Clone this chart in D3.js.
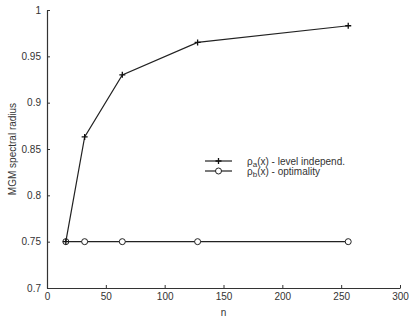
<!DOCTYPE html>
<html>
<head>
<meta charset="utf-8">
<script src="https://cdn.jsdelivr.net/npm/d3@7"></script>
<style>
  html, body { margin: 0; padding: 0; background: #fff; }
  svg text { font-family: "Liberation Sans", Arial, sans-serif; fill: #333; }
</style>
</head>
<body>
<svg id="chart" width="409" height="321"></svg>
<script>
// Grid sizes n and spectral radius for the two smoothing-parameter choices
const nValues = [16, 32, 64, 128, 256];
const rhoLevelIndependent = [0.75, 0.863, 0.930, 0.965, 0.983];
const rhoOptimality = [0.75, 0.75, 0.75, 0.75, 0.75];
const xTicks = [0, 50, 100, 150, 200, 250, 300];
const yTicks = [0.7, 0.75, 0.8, 0.85, 0.9, 0.95, 1];
const yTickLabels = ["0.7", "0.75", "0.8", "0.85", "0.9", "0.95", "1"];

const svg = d3.select("#chart");
const x = d3.scaleLinear().domain([0, 300]).range([47, 400]);
const y = d3.scaleLinear().domain([0.7, 1]).range([288, 10]);
const ink = "#333";

// Axes: ticks point inward, as in a MATLAB plot without box
const xAxis = d3.axisBottom(x).tickValues(xTicks).tickSizeInner(-3).tickSizeOuter(0).tickPadding(5);
const yAxis = d3.axisLeft(y).tickValues(yTicks).tickFormat((d, i) => yTickLabels[i])
  .tickSizeInner(-3).tickSizeOuter(0).tickPadding(6);

const gx = svg.append("g").attr("transform", `translate(0,${y(0.7)})`).call(xAxis);
const gy = svg.append("g").attr("transform", `translate(${x(0)},0)`).call(yAxis);
[gx, gy].forEach(g => {
  g.select(".domain").attr("stroke", ink).attr("stroke-width", 1.2);
  g.selectAll(".tick line").attr("stroke", ink);
  g.selectAll(".tick text").attr("font-size", 10).style("fill", ink)
    .attr("font-family", "'Liberation Sans', Arial, sans-serif");
});
gx.selectAll(".tick text").attr("dy", "0.71em");

// Axis titles
svg.append("text").attr("x", x(150)).attr("y", 316).attr("text-anchor", "middle")
  .attr("font-size", 10).text("n");
svg.append("text").attr("transform", `translate(16,${y(0.85)}) rotate(-90)`)
  .attr("text-anchor", "middle").attr("font-size", 10).text("MGM spectral radius");

const line = d3.line().x(d => x(d[0])).y(d => y(d[1]));
const dataA = nValues.map((n, i) => [n, rhoLevelIndependent[i]]);
const dataB = nValues.map((n, i) => [n, rhoOptimality[i]]);

function plus(g, cx, cy) {
  g.append("path").attr("d", `M${cx - 3},${cy}H${cx + 3}M${cx},${cy - 3}V${cy + 3}`)
    .attr("stroke", "#111").attr("stroke-width", 1.3).attr("fill", "none");
}
function circ(g, cx, cy) {
  g.append("circle").attr("cx", cx).attr("cy", cy).attr("r", 3)
    .attr("stroke", "#222").attr("stroke-width", 1).attr("fill", "#fff");
}

// Optimality series
svg.append("path").datum(dataB).attr("d", line).attr("fill", "none")
  .attr("stroke", "#222").attr("stroke-width", 1.2);
const gB = svg.append("g");
dataB.forEach(d => circ(gB, x(d[0]), y(d[1])));

// Level-independent series
svg.append("path").datum(dataA).attr("d", line).attr("fill", "none")
  .attr("stroke", "#222").attr("stroke-width", 1.2);
const gA = svg.append("g");
dataA.forEach(d => plus(gA, x(d[0]), y(d[1])));

// Legend
const legend = svg.append("g");
const legendItems = [
  { sym: plus, base: "ρ", sub: "a", rest: "(x) - level independ.", yy: 161 },
  { sym: circ, base: "ρ", sub: "b", rest: "(x) - optimality", yy: 171 }
];
legendItems.forEach(it => {
  legend.append("line").attr("x1", 205).attr("x2", 232).attr("y1", it.yy).attr("y2", it.yy)
    .attr("stroke", "#222").attr("stroke-width", 1.2);
  it.sym(legend, 218.5, it.yy);
  const t = legend.append("text").attr("x", 247).attr("y", it.yy + 3.5).attr("font-size", 10);
  t.append("tspan").text(it.base);
  t.append("tspan").attr("font-size", 8).attr("dy", 2.5).text(it.sub);
  t.append("tspan").attr("dy", -2.5).text(it.rest);
});
</script>
</body>
</html>
